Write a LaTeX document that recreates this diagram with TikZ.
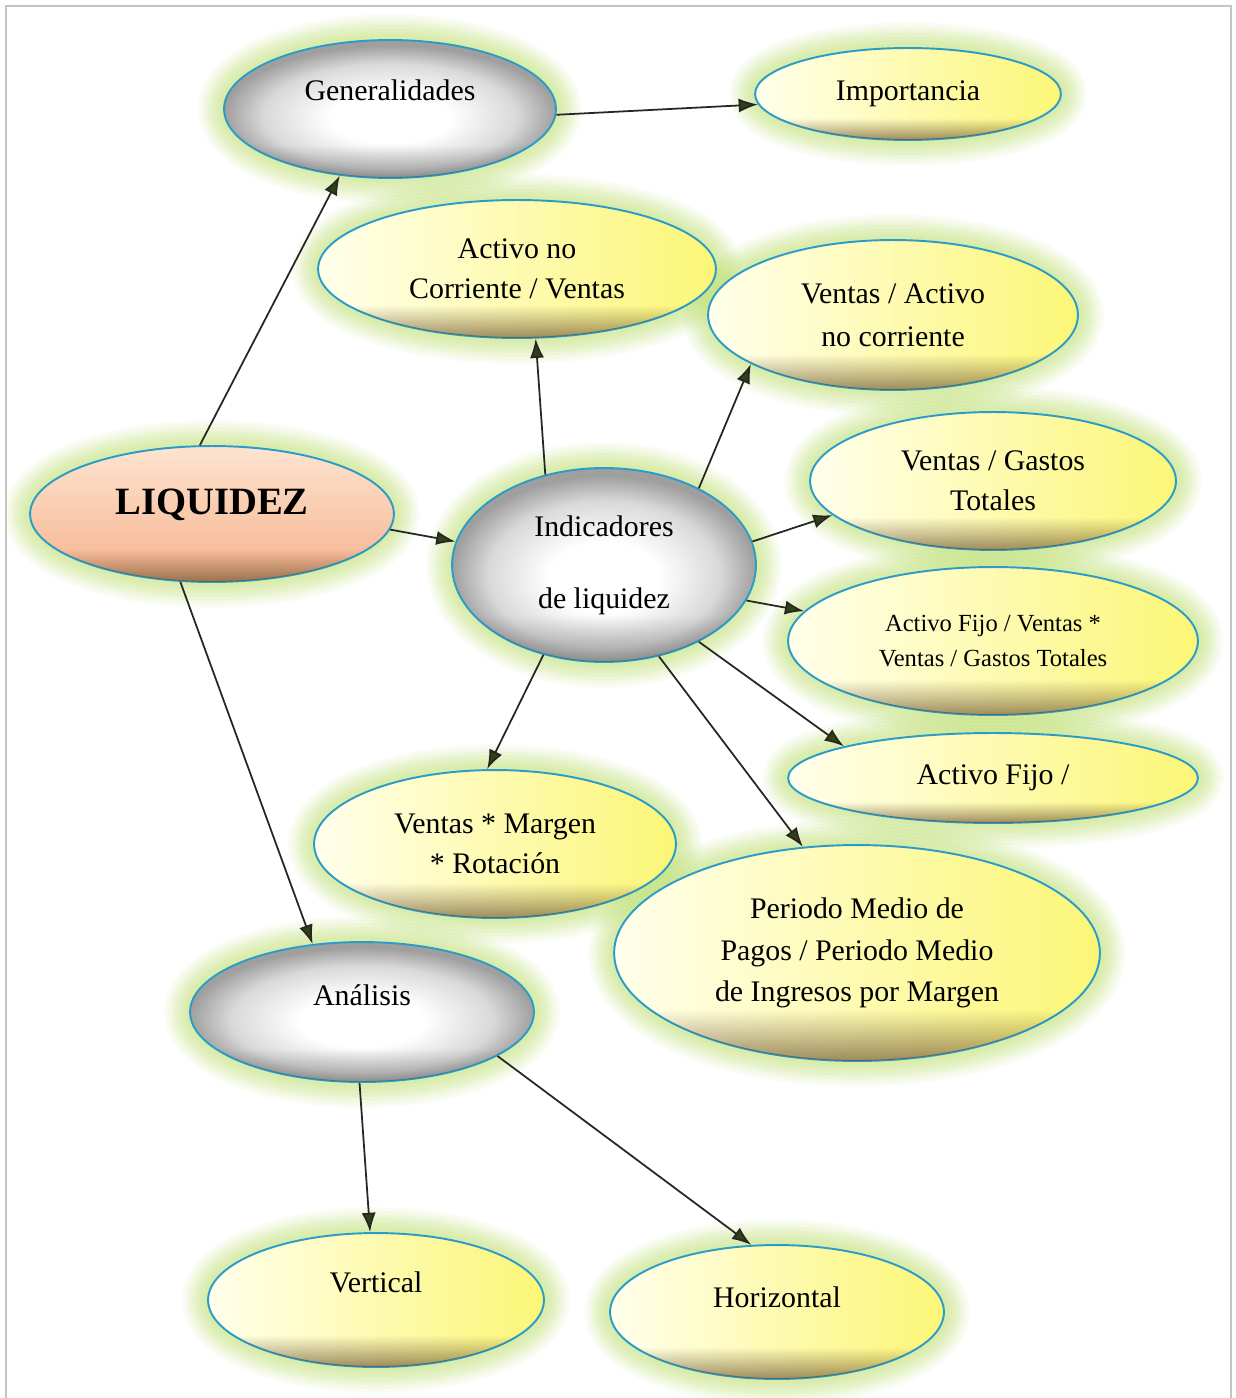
\documentclass[tikz,border=0pt]{standalone}
\usepackage{fontspec}
\setmainfont{Liberation Serif}
\usetikzlibrary{shapes.geometric, arrows.meta, fadings, backgrounds, calc}

\definecolor{rimblue}{RGB}{43,156,200}
\definecolor{halogreen}{RGB}{190,225,110}
\definecolor{amarillo}{RGB}{252,246,118}
\definecolor{amarilloclaro}{RGB}{255,255,236}
\definecolor{salmonclaro}{RGB}{253,228,208}
\definecolor{salmon}{RGB}{246,178,140}
\definecolor{sombra}{RGB}{105,78,45}
\definecolor{puntaverde}{RGB}{50,64,18}
\definecolor{marco}{RGB}{196,196,196}

% sombreado gris y borde oscuro de abajo
\pgfdeclareradialshading{grisbola}{\pgfpoint{0bp}{-4bp}}{color(0bp)=(white); color(9bp)=(white); color(19bp)=(gray!30); color(25bp)=(gray!75); color(50bp)=(gray!75)}
\pgfdeclareverticalshading{sombrabaja}{100bp}{color(0bp)=(black!35); color(25bp)=(black!35); color(37bp)=(black); color(100bp)=(black)}
\pgfdeclarefading{bordeinf}{\pgfuseshading{sombrabaja}}

\newcommand\letra{\fontsize{17}{23}\selectfont}

\begin{document}
\begin{tikzpicture}[x=0.02cm, y=-0.02cm,
    elip/.style={ellipse, draw=rimblue, line width=1.1pt, inner sep=0pt, align=center, font=\letra},
    tam/.style 2 args={minimum width=#1*0.04cm, minimum height=#2*0.04cm},
    gris/.style={elip, shading=grisbola, postaction={fill=black!70, fill opacity=.6, path fading=bordeinf}},
    amar/.style={elip, left color=amarilloclaro, right color=amarillo, postaction={fill=sombra, path fading=bordeinf}},
    salm/.style={elip, top color=salmonclaro, bottom color=salmon, postaction={fill=sombra, path fading=bordeinf}},
    subir/.style={text depth=#1},
    halo/.style={draw=halogreen, draw opacity=.12, line width=4pt,
        preaction={draw=halogreen, draw opacity=.12, line width=8pt},
        preaction={draw=halogreen, draw opacity=.12, line width=12pt},
        preaction={draw=halogreen, draw opacity=.12, line width=16pt},
        preaction={draw=halogreen, draw opacity=.12, line width=20pt},
        preaction={draw=halogreen, draw opacity=.1, line width=24pt},
        preaction={draw=halogreen, draw opacity=.07, line width=28pt}},
    flecha/.style={draw=black!85, line width=1pt, -{Latex[length=11pt, width=8pt, fill=puntaverde]}}]

\useasboundingbox (0,0) rectangle (1235,1398);

%\draw[step=50, gray!30] (0,0) grid (1235,1398);

\draw[marco, line width=1.3pt] (6,1398) -- (6,6) -- (1231,6) -- (1231,1398);

\node[gris, tam={166}{69}, subir=21pt] (gen) at (390,109) {Generalidades};
\node[amar, tam={153}{46}] (imp) at (908,94) {Importancia};
\node[amar, tam={199}{69}] (acv) at (517,269) {Activo no\\Corriente / Ventas};
\node[amar, tam={185}{75}, font=\fontsize{17}{24.4}\selectfont] (vanc) at (893,315) {Ventas / Activo\\no corriente};

\node[salm, tam={182}{68}, subir=14pt, font=\fontsize{22}{26}\selectfont\bfseries] (liq) at (212,514) {LIQUIDEZ};
\node[gris, tam={152}{97}, font=\fontsize{17}{41}\selectfont] (ind) at (604,565) {Indicadores\\de liquidez};

\node[amar, tam={183}{69}] (vgt) at (993,481) {Ventas / Gastos\\Totales};
\node[amar, tam={205}{74}, font=\fontsize{14}{19.5}\selectfont] (afv) at (993,641) {Activo Fijo / Ventas *\\Ventas / Gastos Totales};
\node[amar, tam={205}{45}] (af) at (993,778) {Activo Fijo /};
\node[amar, tam={181}{74}] (vmr) at (495,844) {Ventas * Margen\\* Rotación};
\node[amar, tam={243}{108}, font=\fontsize{17}{23.5}\selectfont] (pmp) at (857,953) {Periodo Medio de\\Pagos / Periodo Medio\\de Ingresos por Margen};

\node[gris, tam={172}{70}, subir=19pt] (ana) at (362,1012) {Análisis};
\node[amar, tam={168}{67}, subir=20pt] (ver) at (376,1300) {Vertical};
\node[amar, tam={167}{67}, subir=17pt] (hor) at (777,1312) {Horizontal};

% resplandor verde
\begin{scope}[on background layer]
\fill[white] (0,0) rectangle (1235,1398);
\foreach \nom in {gen,imp,acv,vanc,liq,ind,vgt,afv,af,vmr,pmp,ana,ver,hor}
    \draw[halo] let \p0=(\nom.center), \p1=(\nom.east), \p2=(\nom.north) in
        (\p0) ellipse [x radius=\x1-\x0, y radius=\y2-\y0];
\end{scope}

% flechas
\draw[flecha] (liq.100) -- (gen.233);
\draw[flecha] (gen.358) -- (imp.184);
\draw[flecha] (liq.355) -- (ind.171);
\draw[flecha] (liq.245) -- (ana.126);

\draw[flecha] (ind.123) -- (acv.285);
\draw[flecha] (ind.39) -- (vanc.199);
\draw[flecha] (ind.9) -- (vgt.192);
\draw[flecha] (ind.346) -- (afv.171);
\draw[flecha] (ind.321) -- (af.168);
\draw[flecha] (ind.301) -- (pmp.117);
\draw[flecha] (ind.236) -- (vmr.96);

\draw[flecha] (ana.268) -- (ver.95);
\draw[flecha] (ana.342) -- (hor.111);

\end{tikzpicture}
\end{document}
